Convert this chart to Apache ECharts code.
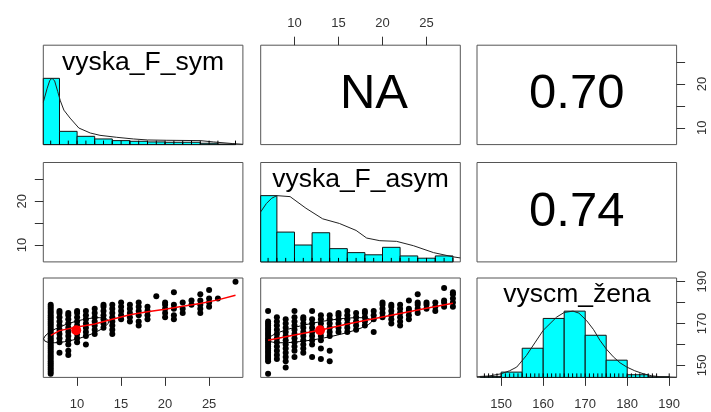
<!DOCTYPE html>
<html><head><meta charset="utf-8">
<script src="https://cdn.jsdelivr.net/npm/echarts@6/dist/echarts.min.js"></script>
<style>html,body{margin:0;padding:0;background:#fff}#c{width:711px;height:412px}</style>
</head><body><div id="c"></div>
<script>
// ===== data =====
const varNames = ['vyska_F_sym', 'vyska_F_asym', 'vyscm_žena'];
const corrTexts = ['NA', '0.70', '0.74'];

const symRange = [6.16, 28.84];
const asymRange = [6.16, 28.84];
const zenaRange = [144.24, 191.76];

const symTicks = [10, 15, 20, 25];
const symBottomLabels = [10, 15, 20, 25];
const symSideLabels = [10, 20];
const asymTicks = [10, 15, 20, 25];
const asymTopLabels = [10, 15, 20, 25];
const asymSideLabels = [10, 20];
const zenaTicks = [150, 160, 170, 180, 190];
const zenaBottomLabels = [150, 160, 170, 180, 190];
const zenaSideLabels = [150, 170, 190];

// histograms (bar heights relative to tallest bar)
const symBreaks = [6, 8, 10, 12, 14, 16, 18, 20, 22, 24, 26, 28];
const symHist = [1.0, 0.2, 0.125, 0.085, 0.06, 0.05, 0.04, 0.035, 0.035, 0.02, 0.008];
const asymBreaks = [6, 8, 10, 12, 14, 16, 18, 20, 22, 24, 26, 28];
const asymHist = [1.0, 0.45, 0.255, 0.44, 0.2, 0.14, 0.107, 0.22, 0.09, 0.056, 0.09];
const zenaBreaks = [145, 150, 155, 160, 165, 170, 175, 180, 185, 190];
const zenaHist = [0.015, 0.08, 0.44, 0.89, 1.0, 0.636, 0.26, 0.04, 0.01];

// density curves (scaled so the maximum is 1)
const symDensity = [[6.16,0.64],[6.6,0.85],[6.9,0.97],[7.15,1.0],[7.45,0.96],[7.8,0.8],[8.1,0.66],[8.5,0.52],[9.2,0.4],[10.2,0.25],[11.5,0.175],[12.6,0.14],[14.5,0.11],[16.4,0.085],[18,0.07],[20.2,0.065],[24,0.06],[25.5,0.04],[27.7,0.015],[28.84,0.005]];
const asymDensity = [[6.16,0.755],[6.8,0.88],[7.4,0.96],[8.0,1.0],[9.5,0.985],[11.3,0.81],[13.2,0.65],[15.1,0.58],[17,0.475],[18.2,0.36],[19.7,0.32],[21.6,0.31],[23.5,0.245],[25.8,0.14],[28,0.077],[28.84,0.06]];
const zenaDensity = [[144.24,0.01],[147,0.02],[150,0.055],[152,0.1],[153.7,0.156],[156,0.33],[158,0.52],[160,0.71],[163.2,0.91],[165,0.98],[167.1,1.0],[168.5,0.97],[170.3,0.86],[172,0.72],[173.5,0.56],[175,0.43],[176.7,0.31],[178.3,0.22],[179.9,0.156],[181.8,0.1],[183.8,0.056],[185.8,0.025],[187.8,0.01],[191.76,0.002]];

// scatter: [x value, list of vyscm_žena values]
const symZena = [
  [7, [146,147,148,149,150,151,152,153,154,155,156,157,158,159,160,161,162,163,164,165,166,167,168,169,170,171,172,173,174,175,176,177,178,179]],
  [8, [156,161,163,165,167,169,171,173,175,176]],
  [9, [155,157,160,162,164,166,168,170,172,174,175]],
  [10, [161,163,165,167,169,171,173,175,176]],
  [11, [160,164,166,168,170,172,174,176]],
  [12, [165,167,169,171,173,175,177]],
  [13, [168,170,172,174,176,178,179]],
  [14, [165,167,169,171,173,175,177,179]],
  [15, [172,174,176,178,180]],
  [16, [171,173,175,177,179]],
  [17, [169,171,174,176,178,180]],
  [18, [172,174,176,178]],
  [19, [183]],
  [20, [173,175,177,179,180]],
  [21, [172,174,177,179,185]],
  [22, [175,177,180]],
  [23, [179,181]],
  [24, [175,177,179,181,184]],
  [25, [178,180,182,186]],
  [26, [182]],
  [28, [190]]
];
const asymZena = [
  [7, [146,152,153,154,155,156,157,158,159,160,161,162,163,164,165,166,167,168,169,170,171,176]],
  [8, [153,155,157,159,161,163,165,167,169,171,173]],
  [9, [149,152,154,156,158,160,162,164,166,168,170,172]],
  [10, [154,157,159,161,163,165,167,169,171,173,176]],
  [11, [156,158,160,162,164,166,168,170,172,173]],
  [12, [154,160,162,164,166,168,170,172,176]],
  [13, [153,158,162,164,166,168,170,172,174]],
  [14, [152,157,164,166,168,170,172,174]],
  [15, [166,168,170,172,174,175]],
  [16, [166,168,170,172,174,176]],
  [17, [167,169,171,173,175]],
  [18, [169,171,173,175,176]],
  [19, [166,172,174,176]],
  [20, [173,175,177,179,180]],
  [21, [170,172,174,176,178,179]],
  [22, [169,171,173,175,177,179]],
  [23, [172,174,176,177,181]],
  [24, [175,177,179,180,184]],
  [25, [177,179,180]],
  [26, [176,178,180]],
  [27, [178,180,181,187]],
  [28, [178,180,182,184,185]]
];

// smoothed fits (red) and correlation ellipse parameters
const symSmooth = [[7,164.3],[8,166.6],[10,168.3],[12,169.8],[14,172.0],[16,174.2],[18,175.6],[20,176.8],[22,178.2],[24,179.6],[26,181.3],[28,183.5]];
const asymSmooth = [[7,162.0],[10,164.5],[13,166.9],[16,169.8],[19,172.3],[22,174.8],[25,177.3],[28,179.7]];
const symMean = [9.9, 166.8];
const symSd = [3.7, 6.0];
const symR = 0.70;
const asymMean = [12.9, 166.8];
const asymSd = [5.9, 6.0];
const asymR = 0.74;

// ===== layout =====
const colsLeft = [43.3, 260.7, 477];
const rowsTop = [45.2, 162.5, 278];
const PW = 199.6, PH = 99.4;
const FONT = "'Liberation Sans', Arial, Helvetica, sans-serif";
const AXC = '#333';

const grids = [];
for (let r = 0; r < 3; r++) for (let c = 0; c < 3; c++) {
  grids.push({ left: colsLeft[c], top: rowsTop[r], width: PW, height: PH, show: true,
    borderColor: '#555', borderWidth: 1, backgroundColor: 'transparent', containLabel: false });
}

function hiddenAxis(gi, range) {
  return { type: 'value', gridIndex: gi, min: range[0], max: range[1], show: false,
    axisLine: { onZero: false }, splitLine: { show: false } };
}
function shownAxis(gi, range, pos, ticks, labels, margin, rotate) {
  return { type: 'value', gridIndex: gi, min: range[0], max: range[1], position: pos, show: true,
    axisLine: { show: false, onZero: false }, splitLine: { show: false },
    axisTick: { show: true, length: 8.5, inside: false, customValues: ticks, lineStyle: { color: AXC, width: 1 } },
    axisLabel: { show: true, customValues: labels, margin: margin, rotate: rotate || 0,
      fontFamily: FONT, fontSize: 13, color: AXC, showMinLabel: true, showMaxLabel: true } };
}
const unit = [0, 1.5];
const xAxes = [
  hiddenAxis(0, symRange),
  shownAxis(1, asymRange, 'top', asymTicks, asymTopLabels, 15),
  hiddenAxis(2, zenaRange),
  hiddenAxis(3, symRange),
  hiddenAxis(4, asymRange),
  hiddenAxis(5, zenaRange),
  shownAxis(6, symRange, 'bottom', symTicks, symBottomLabels, 21),
  hiddenAxis(7, asymRange),
  shownAxis(8, zenaRange, 'bottom', zenaTicks, zenaBottomLabels, 21)
];
const yAxes = [
  hiddenAxis(0, unit),
  hiddenAxis(1, unit),
  shownAxis(2, symRange, 'right', symTicks, symSideLabels, 19, 90),
  shownAxis(3, asymRange, 'left', asymTicks, asymSideLabels, 14, 90),
  hiddenAxis(4, unit),
  hiddenAxis(5, unit),
  hiddenAxis(6, zenaRange),
  hiddenAxis(7, zenaRange),
  hiddenAxis(8, unit),
  shownAxis(8, zenaRange, 'right', zenaTicks, zenaSideLabels, 19, 90)
];

function histSeries(gi, breaks, heights) {
  return {
    type: 'custom', xAxisIndex: gi, yAxisIndex: gi, z: 2,
    data: heights.map((h, i) => [breaks[i], breaks[i + 1], h]),
    encode: { x: [0, 1], y: 2 },
    renderItem: function (params, api) {
      const p0 = api.coord([api.value(0), api.value(2)]);
      const p1 = api.coord([api.value(1), 0]);
      const cs = params.coordSys;
      const x0 = Math.max(p0[0], cs.x), x1 = Math.min(p1[0], cs.x + cs.width);
      if (x1 <= x0) return null;
      return { type: 'rect', shape: { x: x0, y: p0[1], width: x1 - x0, height: p1[1] - p0[1] },
        style: { fill: '#00FFFF', stroke: '#111', lineWidth: 1 } };
    }
  };
}
function rugSeries(gi, values) {
  return {
    type: 'custom', xAxisIndex: gi, yAxisIndex: gi, z: 4,
    data: values.map(v => [v, 0]),
    encode: { x: 0, y: 1 },
    renderItem: function (params, api) {
      const p = api.coord([api.value(0), 0]);
      return { type: 'line', shape: { x1: p[0], y1: p[1], x2: p[0], y2: p[1] - 4 },
        style: { stroke: '#000', lineWidth: 1 } };
    }
  };
}
function lineSeries(xi, yi, data, color, width, z) {
  return { type: 'line', xAxisIndex: xi, yAxisIndex: yi, data: data, showSymbol: false, symbol: 'none',
    clip: true, z: z, lineStyle: { color: color, width: width }, silent: true, animation: false };
}
function flat(cols) { return cols.flatMap(([x, hs]) => hs.map(h => [x, h])); }
function ellipse(mean, sd, r) {
  const t = 1 / Math.sqrt(2), a = Math.sqrt(1 + r), b = Math.sqrt(1 - r), pts = [];
  for (let i = 0; i <= 51; i++) {
    const ang = i * 2 * Math.PI / 51, c = Math.cos(ang), s = Math.sin(ang);
    pts.push([mean[0] + sd[0] * (a * t * c - b * t * s), mean[1] + sd[1] * (a * t * c + b * t * s)]);
  }
  return pts;
}
const symRug = symZena.map(d => d[0]);
const asymRug = asymZena.map(d => d[0]);
const zenaRug = Array.from(new Set(flat(symZena).concat(flat(asymZena)).map(p => p[1]))).sort((a, b) => a - b);

const dotStyle = { color: '#000', opacity: 1 };
const series = [
  histSeries(0, symBreaks, symHist), rugSeries(0, symRug), lineSeries(0, 0, symDensity, '#222', 1, 3),
  histSeries(4, asymBreaks, asymHist), rugSeries(4, asymRug), lineSeries(4, 4, asymDensity, '#222', 1, 3),
  histSeries(8, zenaBreaks, zenaHist), rugSeries(8, zenaRug), lineSeries(8, 8, zenaDensity, '#222', 1, 3),
  { type: 'scatter', xAxisIndex: 6, yAxisIndex: 6, data: flat(symZena), symbolSize: 6, z: 2,
    itemStyle: dotStyle, animation: false },
  { type: 'scatter', xAxisIndex: 7, yAxisIndex: 7, data: flat(asymZena), symbolSize: 6, z: 2,
    itemStyle: dotStyle, animation: false },
  lineSeries(6, 6, ellipse(symMean, symSd, symR), '#000', 1, 3),
  lineSeries(7, 7, ellipse(asymMean, asymSd, asymR), '#000', 1, 3),
  lineSeries(6, 6, symSmooth, '#ff0000', 1.5, 4),
  lineSeries(7, 7, asymSmooth, '#ff0000', 1.5, 4),
  { type: 'scatter', xAxisIndex: 6, yAxisIndex: 6, data: [symMean], symbolSize: 10, z: 5,
    itemStyle: { color: '#ff0000', opacity: 1 }, animation: false },
  { type: 'scatter', xAxisIndex: 7, yAxisIndex: 7, data: [asymMean], symbolSize: 10, z: 5,
    itemStyle: { color: '#ff0000', opacity: 1 }, animation: false }
];

const graphics = [];
for (let i = 0; i < 3; i++) {
  graphics.push({ type: 'text', x: colsLeft[i] + PW / 2, y: rowsTop[i] + 17, z: 10,
    style: { text: varNames[i], font: '26.5px ' + FONT, fill: '#000', align: 'center', verticalAlign: 'middle' } });
}
const corrPos = [[0, 1], [0, 2], [1, 2]];
const corrShift = [13.5, 0, 0];
corrPos.forEach(([r, c], k) => {
  graphics.push({ type: 'text', x: colsLeft[c] + PW / 2 + corrShift[k], y: rowsTop[r] + PH / 2, z: 10,
    style: { text: corrTexts[k], font: '49px ' + FONT, fill: '#000', align: 'center', verticalAlign: 'middle' } });
});

const chart = echarts.init(document.getElementById('c'), null, { renderer: 'canvas' });
chart.setOption({
  animation: false,
  grid: grids, xAxis: xAxes, yAxis: yAxes, series: series, graphic: graphics
});
</script></body></html>
